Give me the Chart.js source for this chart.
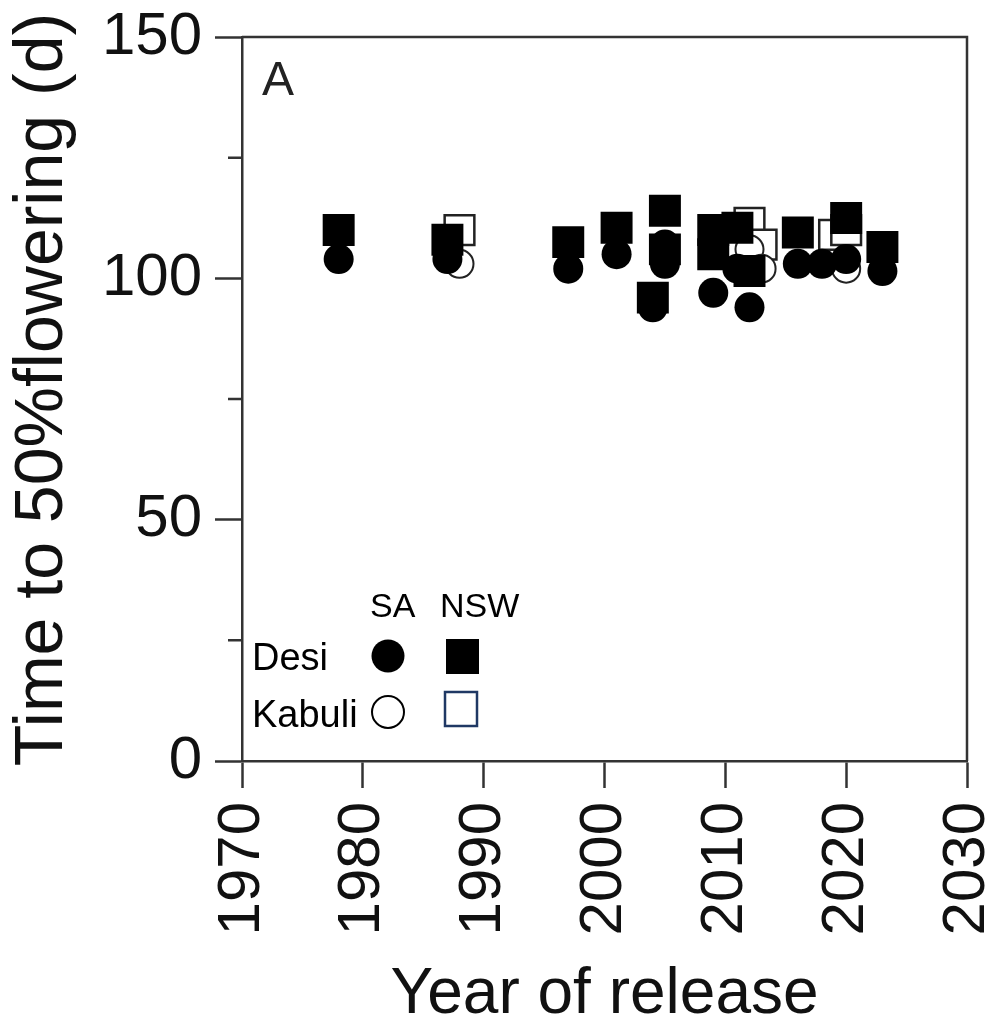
<!DOCTYPE html>
<html lang="en">
<head>
  <meta charset="UTF-8" />
  <title>Time to 50% flowering</title>
  <script src="https://cdn.jsdelivr.net/npm/chart.js"></script>
  <style>
    html, body {
      margin: 0;
      padding: 0;
      background: #fff;
    }
    #chart {
      display: block;
    }
  </style>
</head>
<body>
  <canvas id="chart" width="993" height="1027"></canvas>
  <script>
  // values (year of release, days to 50% flowering)
  const desiSAYears = [1978, 1987, 1997, 2001, 2004, 2005, 2005, 2009, 2009, 2011, 2012, 2016, 2018, 2020, 2023];
  const desiSADays = [104, 104, 102, 105, 94, 103, 107, 97, 106, 102, 94, 103, 103, 104, 101.5];

  const desiNSWYears = [1978, 1987, 1997, 2001, 2004, 2005, 2005, 2009, 2009, 2011, 2012, 2016, 2020, 2023];
  const desiNSWDays = [110, 108, 107.5, 110.5, 96, 114, 106, 110, 105, 110.5, 101.5, 109.5, 112.5, 106.5];

  const kabuliSAYears = [1988, 2012, 2013, 2020];
  const kabuliSADays = [103, 106, 102, 102];

  const kabuliNSWYears = [1988, 2012, 2013, 2019, 2020];
  const kabuliNSWDays = [110, 111.5, 107, 109, 110];

  const xTicks = [1970, 1980, 1990, 2000, 2010, 2020, 2030];
  const yTicks = [0, 50, 100, 150];
  const yMinorTicks = [25, 75, 125];

  const axisColor = '#333';
  const fontFamily = '"Liberation Sans", Arial, sans-serif';

  const pts = (xs, ys) => xs.map((x, i) => ({ x: x, y: ys[i] }));

  // frame, minor ticks, panel letter and the little legend
  const decor = {
    id: 'decor',
    afterDraw(chart) {
      const { ctx, chartArea: a, scales: { y } } = chart;
      ctx.save();
      ctx.strokeStyle = axisColor;
      ctx.lineWidth = 2.5;
      ctx.beginPath();
      ctx.moveTo(a.left, a.top);
      ctx.lineTo(a.right, a.top);
      ctx.lineTo(a.right, a.bottom);
      yMinorTicks.forEach(v => {
        const py = y.getPixelForValue(v);
        ctx.moveTo(a.left - 14, py);
        ctx.lineTo(a.left, py);
      });
      ctx.stroke();

      ctx.fillStyle = '#222';
      ctx.font = '48px ' + fontFamily;
      ctx.textBaseline = 'alphabetic';
      ctx.fillText('A', 262, 95);

      // legend
      ctx.fillStyle = '#000';
      ctx.font = '34px ' + fontFamily;
      ctx.fillText('SA', 370, 617);
      ctx.fillText('NSW', 440, 617);
      ctx.font = '38px ' + fontFamily;
      ctx.fillText('Desi', 252, 670);
      ctx.fillText('Kabuli', 252, 727);

      ctx.beginPath();
      ctx.arc(388, 656, 16.5, 0, Math.PI * 2);
      ctx.fill();
      ctx.fillRect(446, 639, 33, 35);

      ctx.lineWidth = 2;
      ctx.strokeStyle = '#000';
      ctx.beginPath();
      ctx.arc(388, 712, 16, 0, Math.PI * 2);
      ctx.stroke();
      ctx.strokeStyle = '#1f3864';
      ctx.lineWidth = 2.5;
      ctx.strokeRect(445, 692, 32, 34);
      ctx.restore();
    }
  };

  new Chart(document.getElementById('chart'), {
    type: 'scatter',
    data: {
      datasets: [
        {
          label: 'Desi NSW',
          data: pts(desiNSWYears, desiNSWDays),
          pointStyle: 'rect',
          pointRadius: 22.6,
          backgroundColor: '#000',
          borderColor: '#000',
          borderWidth: 0
        },
        {
          label: 'Desi SA',
          data: pts(desiSAYears, desiSADays),
          pointStyle: 'circle',
          pointRadius: 15,
          backgroundColor: '#000',
          borderColor: '#000',
          borderWidth: 0
        },
        {
          label: 'Kabuli SA',
          data: pts(kabuliSAYears, kabuliSADays),
          pointStyle: 'circle',
          pointRadius: 14,
          backgroundColor: '#fff',
          borderColor: '#222',
          borderWidth: 2
        },
        {
          label: 'Kabuli NSW',
          data: pts(kabuliNSWYears, kabuliNSWDays),
          pointStyle: 'rect',
          pointRadius: 21,
          backgroundColor: '#fff',
          borderColor: '#222',
          borderWidth: 2.5
        }
      ]
    },
    options: {
      responsive: false,
      animation: false,
      events: [],
      layout: { padding: { top: 37, right: 26, left: 0, bottom: 0 } },
      plugins: {
        legend: { display: false },
        tooltip: { enabled: false }
      },
      scales: {
        x: {
          type: 'linear',
          min: 1970,
          max: 2030,
          afterBuildTicks: s => { s.ticks = xTicks.map(v => ({ value: v })); },
          afterFit: s => {
            s.height = 266;
            s.paddingLeft = 0;
            s.paddingRight = 0;
          },
          grid: {
            drawOnChartArea: false,
            drawTicks: true,
            tickLength: 27,
            tickWidth: 2.5,
            tickColor: axisColor
          },
          border: { display: true, color: axisColor, width: 2.5 },
          ticks: {
            minRotation: 90,
            maxRotation: 90,
            padding: 14,
            color: '#111',
            font: { family: fontFamily, size: 60 },
            callback: v => String(v)
          },
          title: {
            display: true,
            text: 'Year of release',
            color: '#111',
            padding: 0,
            font: { family: fontFamily, size: 64, lineHeight: 1 }
          }
        },
        y: {
          min: 0,
          max: 150,
          afterBuildTicks: s => { s.ticks = yTicks.map(v => ({ value: v })); },
          afterFit: s => {
            s.width = 242;
            s.paddingTop = 0;
            s.paddingBottom = 0;
          },
          grid: {
            drawOnChartArea: false,
            drawTicks: true,
            tickLength: 27,
            tickWidth: 2.5,
            tickColor: axisColor
          },
          border: { display: true, color: axisColor, width: 2.5 },
          ticks: {
            padding: 13,
            color: '#111',
            font: { family: fontFamily, size: 60 },
            callback: v => String(v)
          },
          title: {
            display: true,
            text: ' Time to 50%flowering (d)',
            color: '#111',
            padding: { top: 2 },
            font: { family: fontFamily, size: 68, lineHeight: 1.2 }
          }
        }
      }
    },
    plugins: [decor]
  });
  </script>
</body>
</html>
